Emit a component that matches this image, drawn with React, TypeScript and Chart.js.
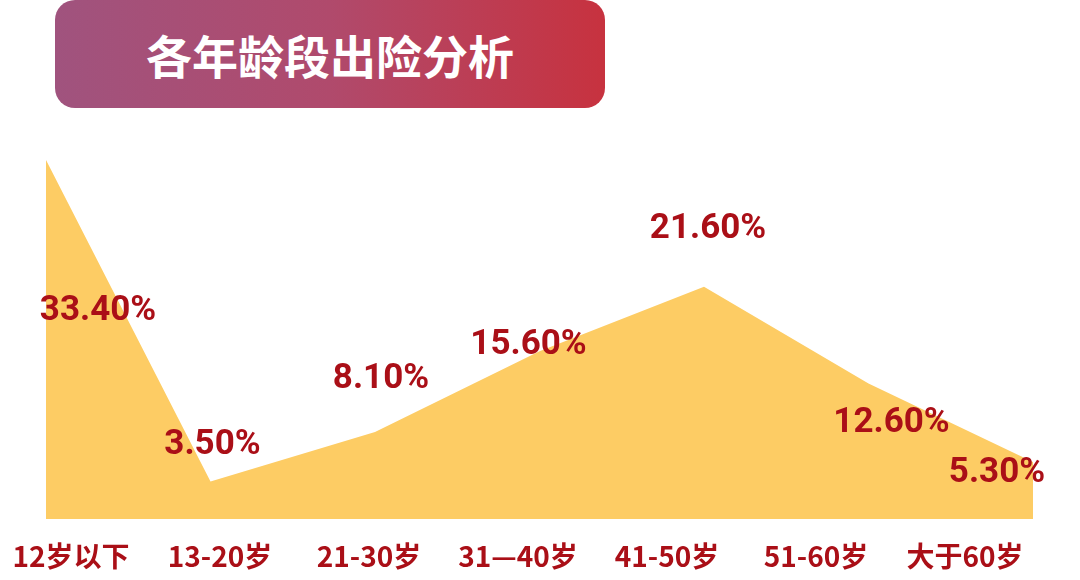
import React, { useEffect, useRef } from "react";
import { Chart, registerables } from "chart.js";

Chart.register(...registerables);

const title = "各年龄段出险分析";
const categories = ["12岁以下", "13-20岁", "21-30岁", "31—40岁", "41-50岁", "51-60岁", "大于60岁"];
const shares = [33.4, 3.5, 8.1, 15.6, 21.6, 12.6, 5.3];
// label offsets (px) relative to each point
const labelOffsetX = [52, 2, 6, -11, 4, 23, -36];
const labelOffsetY = [151, -36, -53, -6, -58, 40, 11];

const RED = "#AA0F17";
const FILL = "#FDCC64";

const valueLabels = {
  id: "valueLabels",
  afterDatasetsDraw(chart: any) {
    const ctx = chart.ctx;
    const meta = chart.getDatasetMeta(0);
    ctx.save();
    ctx.font = "bold 35px Roboto, 'Noto Sans', sans-serif";
    ctx.fillStyle = RED;
    ctx.textAlign = "center";
    ctx.textBaseline = "middle";
    meta.data.forEach((pt: any, i: number) => {
      ctx.fillText(shares[i].toFixed(2) + "%", pt.x + labelOffsetX[i], pt.y + labelOffsetY[i]);
    });
    ctx.restore();
  },
};

export default function App() {
  const ref = useRef<HTMLCanvasElement>(null);
  useEffect(() => {
    document.body.style.margin = "0";
    const chart = new Chart(ref.current!, {
      type: "line",
      data: {
        labels: categories,
        datasets: [
          {
            data: shares,
            fill: "origin",
            backgroundColor: FILL,
            borderWidth: 0,
            borderColor: FILL,
            pointRadius: 0,
            tension: 0,
          },
        ],
      },
      options: {
        animation: false,
        responsive: false,
        events: [],
        layout: { padding: { left: 46, right: 47, top: 89, bottom: 0 } },
        plugins: { legend: { display: false }, tooltip: { enabled: false } },
        scales: {
          x: { type: "category", display: false, offset: false },
          x2: {
            type: "linear",
            position: "bottom",
            min: -0.1678,
            max: 6.456,
            grid: { display: false, drawTicks: false },
            border: { display: false },
            afterBuildTicks: (axis: any) => {
              axis.ticks = categories.map((_, i) => ({ value: i }));
            },
            afterFit: (axis: any) => {
              axis.height = 61;
              axis.paddingLeft = 0;
              axis.paddingRight = 0;
            },
            ticks: {
              autoSkip: false,
              maxRotation: 0,
              padding: 21,
              color: RED,
              font: { family: "'Noto Sans CJK SC', sans-serif", size: 28, weight: "bold" },
              callback: (v: any) => categories[v as number] ?? "",
            },
          },
          y: { display: false, min: 0, max: 40 },
        },
      },
      plugins: [valueLabels],
    } as any);
    return () => chart.destroy();
  }, []);

  return (
    <div style={{ position: "relative", width: 1080, height: 580, background: "#fff", overflow: "hidden" }}>
      <canvas ref={ref} width={1080} height={580} style={{ position: "absolute", left: 0, top: 0 }} />
      <div
        style={{
          position: "absolute",
          left: 55,
          top: 0,
          width: 550,
          height: 108,
          borderRadius: 20,
          background: "linear-gradient(90deg, #A0537E 0%, #B04A6C 50%, #C7323F 100%)",
          display: "flex",
          alignItems: "center",
          justifyContent: "center",
          color: "#fff",
          fontFamily: "'Noto Sans CJK SC', sans-serif",
          fontWeight: "bold",
          fontSize: 46,
          letterSpacing: 0,
        }}
      >
        {title}
      </div>
    </div>
  );
}
